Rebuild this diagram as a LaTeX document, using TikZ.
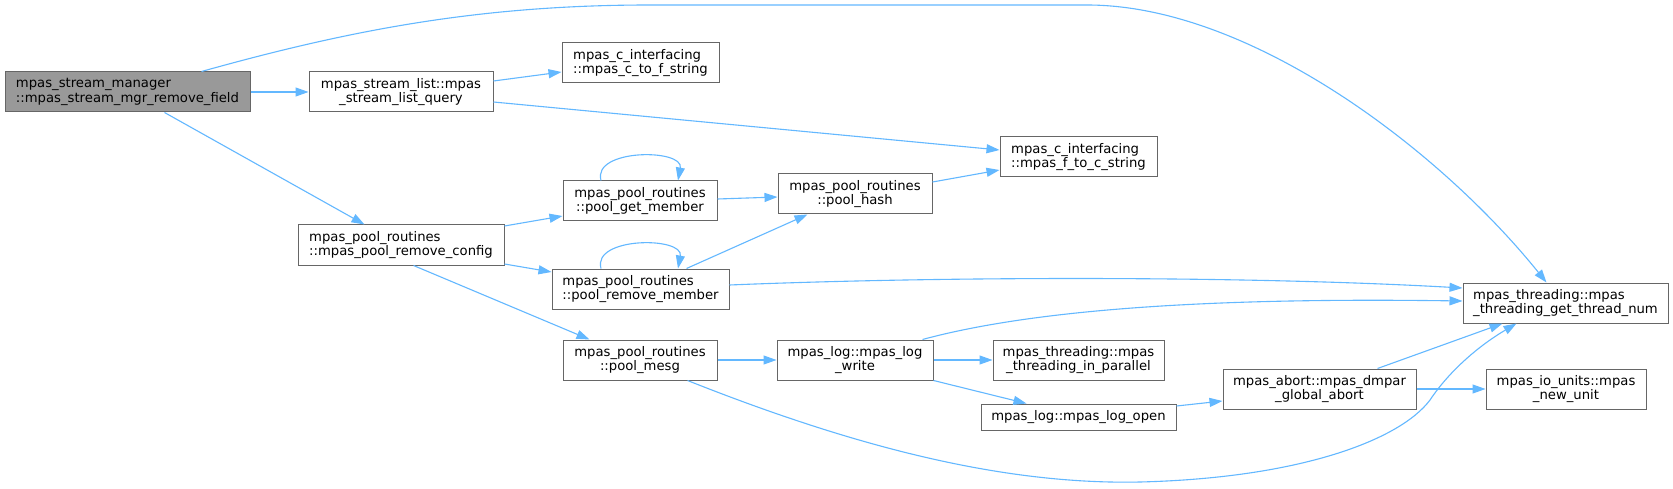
\documentclass[tikz,border=0pt]{standalone}
\usepackage{fontspec}
\setmainfont{DejaVu Sans}
\usetikzlibrary{arrows.meta}
\definecolor{edgeblue}{HTML}{63B8FF}
\definecolor{boxgray}{HTML}{666666}
\definecolor{rootfill}{HTML}{999999}
\begin{document}
\begin{tikzpicture}[x=1pt,y=-1pt,
  box/.style={draw=boxgray,line width=1pt,fill=white,inner sep=0pt,minimum height=40pt,
    font=\fontsize{13.2}{14.7}\selectfont,align=center},
  lbox/.style={box,align=left},
  edge/.style={draw=edgeblue,line width=1.1pt,-{Triangle[length=13pt,width=9pt]}}]
\useasboundingbox[fill=white] (0,0) rectangle (1673,489);

\node[lbox,fill=rootfill,minimum width=245pt] (root) at (127.5,92) {mpas\_stream\_manager\\::mpas\_stream\_mgr\_remove\_field};
\node[box,minimum width=184pt] (slq) at (401,92) {mpas\_stream\_list::mpas\\\_stream\_list\_query};
\node[lbox,minimum width=157pt] (ctf) at (640.5,63) {mpas\_c\_interfacing\\::mpas\_c\_to\_f\_string};
\node[lbox,minimum width=157pt] (ftc) at (1078.5,157) {mpas\_c\_interfacing\\::mpas\_f\_to\_c\_string};
\node[lbox,minimum width=206pt] (rc) at (401,245) {mpas\_pool\_routines\\::mpas\_pool\_remove\_config};
\node[box,minimum width=154pt] (pgm) at (640,201) {mpas\_pool\_routines\\::pool\_get\_member};
\node[box,minimum width=154pt] (ph) at (855,194) {mpas\_pool\_routines\\::pool\_hash};
\node[lbox,minimum width=177pt] (prm) at (640.5,289) {mpas\_pool\_routines\\::pool\_remove\_member};
\node[box,minimum width=154pt] (pm) at (640,360) {mpas\_pool\_routines\\::pool\_mesg};
\node[box,minimum width=156pt] (lw) at (855,360) {mpas\_log::mpas\_log\\\_write};
\node[box,minimum width=171pt] (tip) at (1078.5,360) {mpas\_threading::mpas\\\_threading\_in\_parallel};
\node[box,minimum width=195pt,minimum height=26pt] (lo) at (1078.5,417) {mpas\_log::mpas\_log\_open};
\node[lbox,minimum width=205pt] (gtn) at (1565.5,303) {mpas\_threading::mpas\\\_threading\_get\_thread\_num};
\node[box,minimum width=193pt] (da) at (1319.5,389) {mpas\_abort::mpas\_dmpar\\\_global\_abort};
\node[box,minimum width=160pt] (nu) at (1566,389) {mpas\_io\_units::mpas\\\_new\_unit};

% edges
\draw[edge] (root.east) -- (slq.west);
\draw[edge] ([xshift=160pt]root.south west) -- ([xshift=67pt]rc.north west);
\draw[edge] ([xshift=197pt]root.north west) .. controls (350,30) and (480,5) .. (650,5)
  -- (1087,5) .. controls (1250,5) and (1440,150) .. ([xshift=84pt]gtn.north west);
\draw[edge] ([yshift=11pt]slq.east) -- ([yshift=-9pt]ctf.west);
\draw[edge] ([yshift=-10pt]slq.east) -- ([yshift=7pt]ftc.west);
\draw[edge] ([yshift=19pt]rc.east) -- ([yshift=-15pt]pgm.west);
\draw[edge] ([yshift=-19pt]rc.east) -- ([yshift=17pt]prm.west);
\draw[edge] ([xshift=116pt]rc.south west) -- ([xshift=27pt]pm.north west);
\draw[edge] ([xshift=-39pt]pgm.north) .. controls ([xshift=-48pt,yshift=32pt]pgm.north) and ([xshift=44pt,yshift=32pt]pgm.north) .. ([xshift=38pt]pgm.north);
\draw[edge] ([yshift=2pt]pgm.east) -- ([yshift=-3pt]ph.west);
\draw[edge] ([xshift=-39.5pt]prm.north) .. controls ([xshift=-48.5pt,yshift=32pt]prm.north) and ([xshift=43.5pt,yshift=32pt]prm.north) .. ([xshift=37.5pt]prm.north);
\draw[edge] ([xshift=135pt]prm.north west) -- ([xshift=30pt]ph.south west);
\draw[edge] ([yshift=4pt]prm.east) .. controls (950,276) and (1250,276) .. ([yshift=15pt]gtn.west);
\draw[edge] ([yshift=12pt]ph.east) -- ([yshift=-13pt]ftc.west);
\draw[edge] (pm.east) -- (lw.west);
\draw[edge] ([xshift=125pt]pm.south west) .. controls (850,445) and (1000,485) .. (1140,482)
  .. controls (1300,478) and (1400,440) .. (1430,400)
  .. controls (1450,370) and (1480,345) .. ([xshift=54pt]gtn.south west);
\draw[edge] ([xshift=146pt]lw.north west) .. controls (1050,305) and (1250,298) .. ([yshift=2pt]gtn.west);
\draw[edge] (lw.east) -- (tip.west);
\draw[edge] (lw.south east) -- ([xshift=46pt]lo.north west);
\draw[edge] ([yshift=11pt]lo.east) -- ([yshift=-12pt]da.west);
\draw[edge] ([xshift=155pt]da.north west) -- ([xshift=40pt]gtn.south west);
\draw[edge] (da.east) -- (nu.west);
\end{tikzpicture}
\end{document}
